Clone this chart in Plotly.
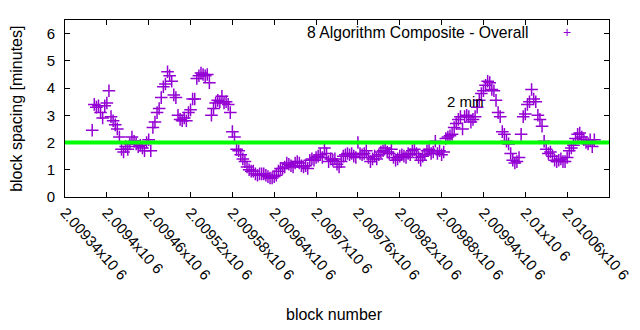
import plotly.graph_objects as go

# ---- data ----
first_block = 2009379
block_step = 3
spacing_minutes = [
    2.45, 3.4, 3.3, 3.35, 3.1, 2.9, 3.35, 3.45, 3.9, 2.95,
    2.8, 2.65, 2.5, 2.2, 1.75, 1.65, 1.85, 1.75, 1.95, 2.2,
    2.05, 1.95, 1.85, 1.9, 1.8, 1.7, 2.0, 2.1, 1.7, 2.55,
    2.75, 3.1, 3.25, 3.65, 4.05, 4.15, 4.6, 4.45, 4.25, 3.75,
    3.65, 3.0, 2.85, 2.8, 2.9, 2.8, 3.1, 3.2, 3.6, 3.6,
    4.35, 4.45, 4.55, 4.5, 4.45, 4.5, 4.2, 3.0, 3.25, 3.45,
    3.55, 3.5, 3.7, 3.45, 3.5, 3.4, 3.1, 2.4, 2.2, 1.75,
    1.7, 1.55, 1.4, 1.3, 1.1, 1.0, 0.95, 0.95, 0.85, 0.8,
    0.85, 0.85, 0.85, 0.8, 0.75, 0.7, 0.7, 0.75, 0.8, 0.95,
    1.05, 1.05, 1.1, 1.25, 1.2, 1.15, 1.1, 1.25, 1.3, 1.25,
    1.15, 1.1, 1.15, 1.05, 1.35, 1.4, 1.35, 1.45, 1.5, 1.55,
    1.45, 1.8, 1.6, 1.3, 1.4, 1.35, 1.4, 1.2, 1.1, 1.3,
    1.5, 1.55, 1.6, 1.55, 1.6, 1.5, 1.45, 2.0, 1.6, 1.55,
    1.6, 1.7, 1.45, 1.3, 1.4, 1.5, 1.4, 1.55, 1.65, 1.7,
    1.8, 1.65, 1.6, 1.75, 1.45, 1.35, 1.4, 1.5, 1.55, 1.5,
    1.45, 1.6, 1.55, 1.7, 1.75, 1.6, 1.45, 1.35, 1.5, 1.55,
    1.7, 1.75, 1.6, 1.65, 2.05, 1.6, 1.7, 1.55, 1.65, 2.15,
    2.2, 2.25, 2.3, 2.55, 2.7, 2.85, 2.95, 2.5, 2.95, 3.0,
    2.95, 2.75, 2.85, 2.95, 3.3, 3.55, 3.8, 3.9, 4.1, 4.25,
    4.2, 3.95, 3.9, 3.55, 3.1, 2.95, 2.4, 2.3, 2.05, 1.95,
    1.6, 1.35, 1.25, 1.3, 1.45, 2.3, 2.95, 3.05, 3.4, 3.5,
    3.95, 3.6, 3.5, 3.0, 2.85, 2.6, 2.05, 1.75, 1.6, 1.65,
    1.5, 1.35, 1.3, 1.35, 1.4, 1.3, 1.3, 1.45, 1.7, 1.8,
    1.9, 2.15, 2.3, 2.35, 2.2, 2.1, 2.0, 1.95, 2.1, 1.85,
    2.1,
]
block_numbers = [first_block + block_step * i for i in range(len(spacing_minutes))]

target_minutes = 2.0
target_label = "2 min"
target_label_block = 2009885
target_label_value = 3.5

series_name = "8 Algorithm Composite - Overall"

x_tick_values = [2009340 + 60 * k for k in range(14)]
x_tick_labels = [
    "2.00934x10 6", "2.0094x10 6", "2.00946x10 6", "2.00952x10 6",
    "2.00958x10 6", "2.00964x10 6", "2.0097x10 6", "2.00976x10 6",
    "2.00982x10 6", "2.00988x10 6", "2.00994x10 6", "2.01x10 6",
    "2.01006x10 6", "2.01012x10 6",
]
y_tick_values = [0, 1, 2, 3, 4, 5, 6]

x_range = [2009340, 2010120]
y_range = [0, 6.5]

PURPLE = "#9400d3"
GREEN = "#00ff00"
FONT = "Liberation Sans, Arial, sans-serif"

fig = go.Figure()
fig.add_trace(go.Scatter(
    x=block_numbers, y=spacing_minutes, mode="markers", name=series_name,
    marker=dict(symbol="cross-thin", size=9, line=dict(color=PURPLE, width=1.5), color=PURPLE),
    showlegend=False,
))

fig.add_shape(type="line", xref="paper", x0=0, x1=1, yref="y", y0=target_minutes, y1=target_minutes,
              line=dict(color=GREEN, width=4), layer="above")

axis_common = dict(showline=True, linecolor="black", linewidth=1, mirror="ticks",
                   ticks="inside", ticklen=5, tickcolor="black", showgrid=False,
                   zeroline=False, tickfont=dict(family=FONT, size=15, color="black"))

fig.update_xaxes(range=x_range, tickvals=x_tick_values, ticktext=x_tick_labels,
                 tickangle=48, **axis_common)
fig.update_yaxes(range=y_range, tickvals=y_tick_values, ticklabelstandoff=6, **axis_common)

annotations = [
    dict(text=target_label, x=target_label_block, y=target_label_value, xref="x", yref="y",
         xanchor="left", yanchor="middle", showarrow=False,
         font=dict(family=FONT, size=15, color="black")),
    dict(text=series_name, x=0.8544, y=0.9296, xref="paper", yref="paper",
         xanchor="right", yanchor="middle", showarrow=False,
         font=dict(family=FONT, size=15.7, color="black")),
    dict(text="+", x=0.9224, y=0.9296, xref="paper", yref="paper",
         xanchor="center", yanchor="middle", showarrow=False,
         font=dict(family=FONT, size=14, color=PURPLE)),
    dict(text="block spacing [minutes]", x=-0.0894, y=0.5, xref="paper", yref="paper",
         textangle=-90, xanchor="center", yanchor="middle", showarrow=False,
         font=dict(family=FONT, size=16, color="black")),
    dict(text="block number", x=0.4954, y=-0.665, xref="paper", yref="paper",
         xanchor="center", yanchor="middle", showarrow=False,
         font=dict(family=FONT, size=16, color="black")),
]

fig.update_layout(
    width=640, height=330,
    margin=dict(l=65, r=31, t=20, b=133, autoexpand=False),
    paper_bgcolor="white", plot_bgcolor="white",
    annotations=annotations,
    font=dict(family=FONT, size=15, color="black"),
)

fig.write_html("out.html")
